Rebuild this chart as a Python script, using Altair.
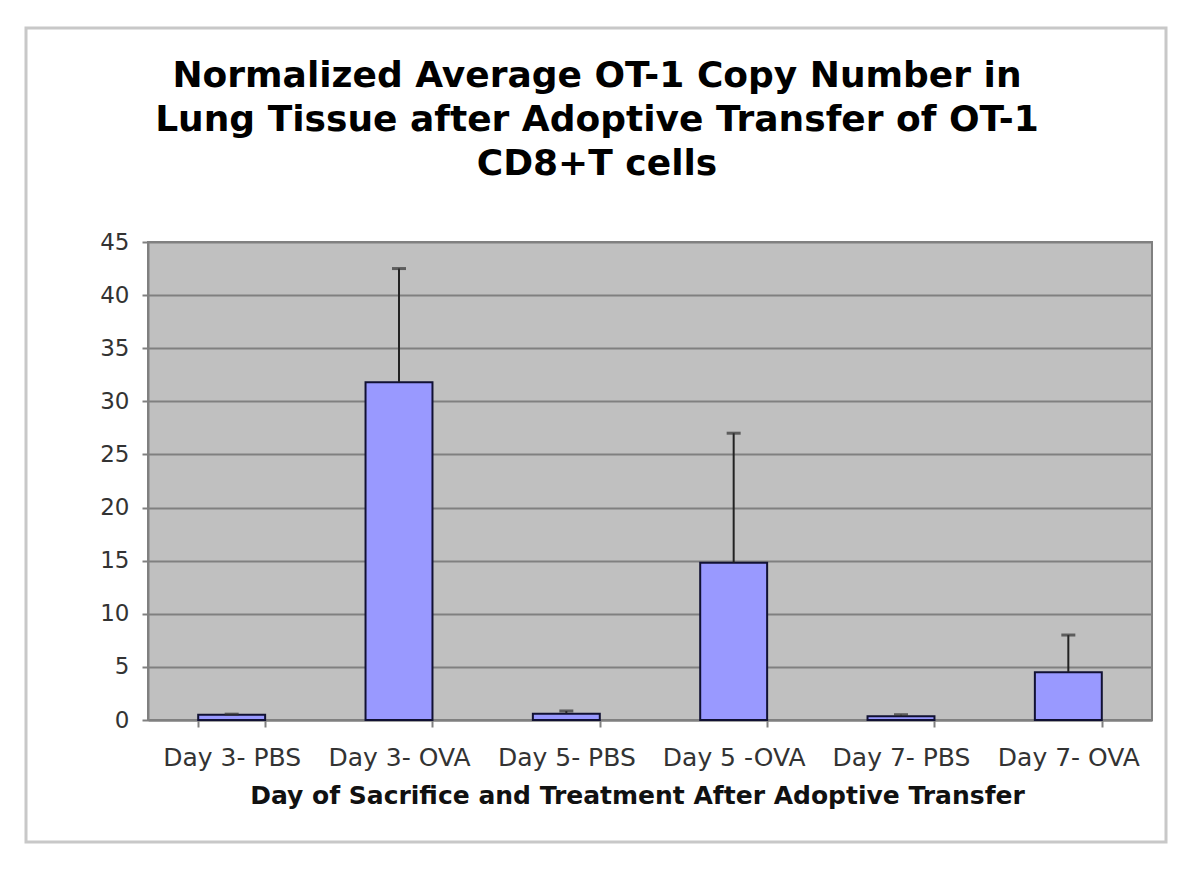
import altair as alt
import pandas as pd

categories = ["Day 3- PBS", "Day 3- OVA", "Day 5- PBS", "Day 5 -OVA", "Day 7- PBS", "Day 7- OVA"]
means = [0.5, 31.8, 0.6, 14.8, 0.35, 4.5]
uppers = [0.55, 42.5, 0.85, 27.0, 0.5, 8.0]
title_lines = ["Normalized Average OT-1 Copy Number in", "Lung Tissue after Adoptive Transfer of OT-1", "CD8+T cells"]

df = pd.DataFrame({"cat": categories, "mean": means, "upper": uppers})
one = pd.DataFrame({"k": [0]})

W, H = 1004, 478
PL, PT = 140, 234

x = alt.X("cat:N", sort=categories, title="Day of Sacrifice and Treatment After Adoptive Transfer",
          scale=alt.Scale(paddingInner=0.6, paddingOuter=0.3),
          axis=alt.Axis(labelAngle=0, tickBand="extent", labelFont="DejaVu Sans", labelFontSize=25,
                        labelColor="#333333", labelBaseline="alphabetic", labelPadding=38,
                        titleFont="DejaVu Sans", titleFontSize=25, titleFontWeight="bold",
                        titleColor="#111111", titleX=489, titleY=83, titleBaseline="alphabetic",
                        titleAlign="center",
                        domainColor="#808080", domainWidth=2, tickColor="#808080", tickWidth=2, tickSize=7))
y = alt.Y("mean:Q", title=None,
          scale=alt.Scale(domain=[0, 45], nice=False),
          axis=alt.Axis(values=list(range(0, 46, 5)), labelFont="DejaVu Sans", labelFontSize=23,
                        labelColor="#333333", labelPadding=13, gridColor="#808080", gridWidth=2,
                        domainColor="#808080", domainWidth=2, tickColor="#808080", tickWidth=2, tickSize=6))

frame = alt.Chart(one).mark_rect(fill="transparent", stroke="#c8c8c8", strokeWidth=3, clip=False).encode(
    x=alt.value(26 - 8 - PL), x2=alt.value(1166 - 8 - PL),
    y=alt.value(28 - 8 - PT), y2=alt.value(842 - 8 - PT))

title = alt.Chart(one).mark_text(text=title_lines, font="DejaVu Sans", fontSize=36, fontWeight="bold",
                                 color="#000000", align="center", baseline="alphabetic", lineHeight=44,
                                 clip=False).encode(
    x=alt.value(597 - 8 - PL), y=alt.value(87 - 8 - PT))

base = alt.Chart(df)
bars = base.mark_bar(color="#9999ff", stroke="#111133", strokeWidth=2).encode(x=x, y=y)

err = base.mark_rule(color="#222222", strokeWidth=2).encode(
    x=alt.X("cat:N", sort=categories), y="mean:Q", y2="upper:Q")
caps = base.mark_tick(color="#333333", thickness=3, size=14, orient="horizontal").encode(
    x=alt.X("cat:N", sort=categories), y="upper:Q")

chart = alt.layer(frame, title, bars, err, caps).properties(
    width=W, height=H,
    autosize=alt.AutoSizeParams(type="none"),
    padding={"left": PL, "top": PT, "right": 1184 - PL - W, "bottom": 861 - PT - H},
    view=alt.ViewBackground(fill="#c0c0c0", stroke="#808080", strokeWidth=2),
).configure(background="white")

chart.save("out.html", embed_options={"renderer": "svg", "actions": False})
